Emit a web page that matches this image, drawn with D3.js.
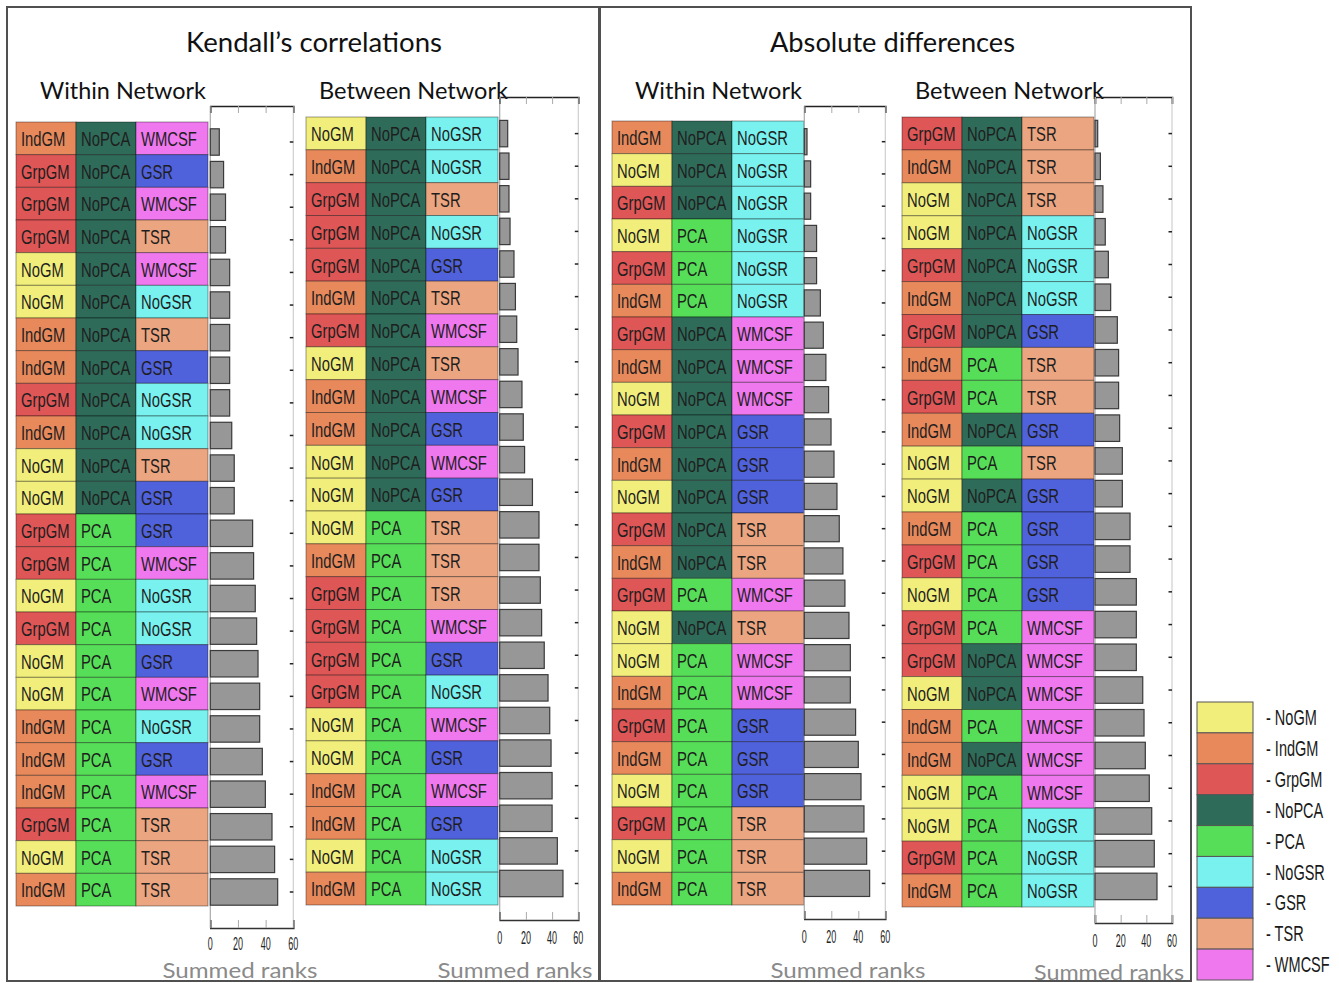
<!DOCTYPE html>
<html><head><meta charset="utf-8">
<script src="https://cdn.jsdelivr.net/npm/d3@7/dist/d3.min.js"></script>
<style>body{margin:0;background:#fff}svg{display:block}</style>
</head><body>
<svg id="chart" width="1339" height="983"></svg>
<script>
// ---------- DATA ----------
const categories = ["NoGM","IndGM","GrpGM","NoPCA","PCA","NoGSR","GSR","TSR","WMCSF"];
const categoryColors = ["#f2ee7c","#e8895c","#df5656","#2f6b59","#56de58","#79f1ee","#5061dc","#eba580","#ef78ee"];
const tickLabels = [0,20,40,60];

// Kendall's correlations - Within Network
const kwMask = ["IndGM","GrpGM","GrpGM","GrpGM","NoGM","NoGM","IndGM","IndGM","GrpGM","IndGM","NoGM","NoGM","GrpGM","GrpGM","NoGM","GrpGM","NoGM","NoGM","IndGM","IndGM","IndGM","GrpGM","NoGM","IndGM"];
const kwPca  = ["NoPCA","NoPCA","NoPCA","NoPCA","NoPCA","NoPCA","NoPCA","NoPCA","NoPCA","NoPCA","NoPCA","NoPCA","PCA","PCA","PCA","PCA","PCA","PCA","PCA","PCA","PCA","PCA","PCA","PCA"];
const kwDen  = ["WMCSF","GSR","WMCSF","TSR","WMCSF","NoGSR","TSR","GSR","NoGSR","NoGSR","TSR","GSR","GSR","WMCSF","NoGSR","NoGSR","GSR","WMCSF","NoGSR","GSR","WMCSF","TSR","TSR","TSR"];
const kwRanks = [6.5,9.6,11,11,14,14,14,14,14,15.5,17.3,17.3,30.6,31.3,32.5,33.5,34.5,35.7,35.7,37.6,39.8,44.6,46.5,48.7];

// Kendall's correlations - Between Network
const kbMask = ["NoGM","IndGM","GrpGM","GrpGM","GrpGM","IndGM","GrpGM","NoGM","IndGM","IndGM","NoGM","NoGM","NoGM","IndGM","GrpGM","GrpGM","GrpGM","GrpGM","NoGM","NoGM","IndGM","IndGM","NoGM","IndGM"];
const kbPca  = ["NoPCA","NoPCA","NoPCA","NoPCA","NoPCA","NoPCA","NoPCA","NoPCA","NoPCA","NoPCA","NoPCA","NoPCA","PCA","PCA","PCA","PCA","PCA","PCA","PCA","PCA","PCA","PCA","PCA","PCA"];
const kbDen  = ["NoGSR","NoGSR","TSR","NoGSR","GSR","TSR","WMCSF","TSR","WMCSF","GSR","WMCSF","GSR","TSR","TSR","TSR","WMCSF","GSR","NoGSR","WMCSF","GSR","WMCSF","GSR","NoGSR","NoGSR"];
const kbRanks = [6.1,7.1,7.1,7.9,10.9,12,13,14,17,18,19,25,30,30,31,32,34,36.9,38.2,39.2,40,40,44,48.3];

// Absolute differences - Within Network
const awMask = ["IndGM","NoGM","GrpGM","NoGM","GrpGM","IndGM","GrpGM","IndGM","NoGM","GrpGM","IndGM","NoGM","GrpGM","IndGM","GrpGM","NoGM","NoGM","IndGM","GrpGM","IndGM","NoGM","GrpGM","NoGM","IndGM"];
const awPca  = ["NoPCA","NoPCA","NoPCA","PCA","PCA","PCA","NoPCA","NoPCA","NoPCA","NoPCA","NoPCA","NoPCA","NoPCA","NoPCA","PCA","NoPCA","PCA","PCA","PCA","PCA","PCA","PCA","PCA","PCA"];
const awDen  = ["NoGSR","NoGSR","NoGSR","NoGSR","NoGSR","NoGSR","WMCSF","WMCSF","WMCSF","GSR","GSR","GSR","TSR","TSR","WMCSF","TSR","WMCSF","WMCSF","GSR","GSR","GSR","TSR","TSR","TSR"];
const awRanks = [2,4.7,4.7,9.1,9.1,11.9,14.1,16,18,19.8,22,24.2,25.9,28.6,30.1,33.1,34.1,34.1,38,40,42,44.2,46.2,48.4];

// Absolute differences - Between Network
const abMask = ["GrpGM","IndGM","NoGM","NoGM","GrpGM","IndGM","GrpGM","IndGM","GrpGM","IndGM","NoGM","NoGM","IndGM","GrpGM","NoGM","GrpGM","GrpGM","NoGM","IndGM","IndGM","NoGM","NoGM","GrpGM","IndGM"];
const abPca  = ["NoPCA","NoPCA","NoPCA","NoPCA","NoPCA","NoPCA","NoPCA","PCA","PCA","NoPCA","PCA","NoPCA","PCA","PCA","PCA","PCA","NoPCA","NoPCA","PCA","NoPCA","PCA","PCA","PCA","PCA"];
const abDen  = ["TSR","TSR","TSR","NoGSR","NoGSR","NoGSR","GSR","TSR","TSR","GSR","TSR","GSR","GSR","GSR","GSR","WMCSF","WMCSF","WMCSF","WMCSF","WMCSF","WMCSF","NoGSR","NoGSR","NoGSR"];
const abRanks = [2.1,4.2,6.2,8,10.4,12.2,17.4,18.4,18.4,19.2,21.3,21.3,27.3,27.3,32.2,32.2,32.2,37.2,38.2,39.2,42.3,44.2,46.2,48.3];

// ---------- LAYOUT ----------
const color = d3.scaleOrdinal().domain(categories).range(categoryColors);
const panels = [
  {mask:kwMask,pca:kwPca,den:kwDen,ranks:kwRanks,cellX:16,cellTop:122,cellBot:906,
   bx:[210.3,293.3],by:[122.6,911.4],fTop:106,fBot:928,tickY:944,lblX:240,lblY:969,lblW:155,
   head:"Within Network",headX:40,headW:166},
  {mask:kbMask,pca:kbPca,den:kbDen,ranks:kbRanks,cellX:306,cellTop:117,cellBot:905,
   bx:[499.7,578.3],by:[114.2,902.9],fTop:97,fBot:920,tickY:938,lblX:515,lblY:969,lblW:155,
   head:"Between Network",headX:319,headW:189},
  {mask:awMask,pca:awPca,den:awDen,ranks:awRanks,cellX:612,cellTop:121,cellBot:905,
   bx:[804.3,885.3],by:[122.5,902.6],fTop:106,fBot:919,tickY:937,lblX:848,lblY:969,lblW:155,
   head:"Within Network",headX:635,headW:167},
  {mask:abMask,pca:abPca,den:abDen,ranks:abRanks,cellX:902,cellTop:117,cellBot:907,
   bx:[1095,1172],by:[114.1,905.9],fTop:97,fBot:923,tickY:941,lblX:1109,lblY:971,lblW:150,
   head:"Between Network",headX:915,headW:189}
];
const colW = [60,60,72];
const headFont = "Lato, 'Open Sans', sans-serif";
const narrow = "'Liberation Sans', Arial, sans-serif";

const svg = d3.select("#chart");

// outer boxes
svg.append("rect").attr("x",7).attr("y",7).attr("width",592).attr("height",974)
  .attr("fill","none").attr("stroke","#505050").attr("stroke-width",2);
svg.append("rect").attr("x",600).attr("y",7).attr("width",591).attr("height",974)
  .attr("fill","none").attr("stroke","#505050").attr("stroke-width",2);

// titles
[["Kendall\u2019s correlations",186,256],["Absolute differences",770,245]].forEach(([t,x,w])=>{
  svg.append("text").attr("x",x).attr("y",42).attr("dominant-baseline","central")
    .attr("textLength",w).attr("lengthAdjust","spacingAndGlyphs")
    .style("font-family",headFont).style("font-size","26px").style("fill","#111").text(t);
});

panels.forEach(p=>{
  const g = svg.append("g");
  g.append("text").attr("x",p.headX).attr("y",90).attr("dominant-baseline","central")
    .attr("textLength",p.headW).attr("lengthAdjust","spacingAndGlyphs")
    .style("font-family",headFont).style("font-size","23px").style("fill","#111").text(p.head);

  // cells
  const yc = d3.scaleBand().domain(d3.range(24)).range([p.cellTop,p.cellBot]);
  const cols = [p.mask,p.pca,p.den];
  let cx = p.cellX;
  cols.forEach((arr,ci)=>{
    const x0 = cx;
    const cg = g.append("g");
    cg.selectAll("rect").data(arr).join("rect")
      .attr("x",x0).attr("y",(d,i)=>yc(i)).attr("width",colW[ci]).attr("height",yc.bandwidth())
      .attr("fill",d=>color(d)).attr("stroke","rgba(0,0,0,0.38)").attr("stroke-width",1);
    cg.selectAll("text").data(arr).join("text")
      .attr("transform",(d,i)=>`translate(${x0+5},${yc(i)+yc.bandwidth()/2+1}) scale(0.74,1)`)
      .attr("dominant-baseline","central")
      .style("font-family",narrow).style("font-size","20px").style("fill","#1e1e1e").text(d=>d);
    cx += colW[ci];
  });

  // bar plot
  const x = d3.scaleLinear().domain([0,60]).range(p.bx);
  const yb = d3.scaleBand().domain(d3.range(24)).range(p.by).padding(0.19);
  const bg = g.append("g");
  bg.append("line").attr("x1",x(60)).attr("x2",x(60)).attr("y1",p.fTop).attr("y2",p.fBot)
    .attr("stroke","#cfcfcf").attr("stroke-width",1.2);
  bg.append("line").attr("x1",x(0)).attr("x2",x(0)).attr("y1",p.fTop).attr("y2",p.fBot)
    .attr("stroke","#aaa").attr("stroke-width",1.2);
  const topAx = d3.axisTop(x).tickValues(tickLabels).tickSize(-7).tickFormat("");
  const ta = bg.append("g").attr("transform",`translate(0,${p.fTop})`).call(topAx);
  ta.select(".domain").attr("stroke","#222").attr("stroke-width",1.6);
  ta.selectAll(".tick line").attr("stroke","#aaa");
  const botAx = d3.axisBottom(x).tickValues(tickLabels).tickSize(-8).tickFormat("");
  const ba = bg.append("g").attr("transform",`translate(0,${p.fBot})`).call(botAx);
  ba.select(".domain").attr("stroke","#333").attr("stroke-width",1.6);
  ba.selectAll(".tick line").attr("stroke","#aaa");
  bg.selectAll("text.tl").data(tickLabels).join("text").attr("class","tl")
    .attr("transform",d=>`translate(${x(d)},${p.tickY}) scale(0.5,1)`)
    .attr("text-anchor","middle").attr("dominant-baseline","central")
    .style("font-family",narrow).style("font-size","18px").style("fill","#222").text(d=>d);
  bg.selectAll("line.rt").data(p.ranks).join("line").attr("class","rt")
    .attr("x1",x(60)-3.5).attr("x2",x(60)).attr("y1",(d,i)=>yb(i)+yb.bandwidth()/2)
    .attr("y2",(d,i)=>yb(i)+yb.bandwidth()/2).attr("stroke","#222").attr("stroke-width",1.5);
  bg.selectAll("rect.bar").data(p.ranks).join("rect").attr("class","bar")
    .attr("x",x(0)).attr("y",(d,i)=>yb(i)).attr("width",d=>x(d)-x(0)).attr("height",yb.bandwidth())
    .attr("fill","#979797").attr("stroke","#3a3a3a").attr("stroke-width",1.2);
  bg.append("text").attr("x",p.lblX).attr("y",p.lblY).attr("text-anchor","middle")
    .attr("dominant-baseline","central").attr("textLength",p.lblW).attr("lengthAdjust","spacingAndGlyphs")
    .style("font-family",headFont).style("font-size","22px").style("fill","#8a8a8a").text("Summed ranks");
});

// legend
const ly = d3.scaleBand().domain(categories).range([702,980]);
const lg = svg.append("g");
lg.selectAll("rect").data(categories).join("rect")
  .attr("x",1197).attr("y",d=>ly(d)).attr("width",56).attr("height",ly.bandwidth())
  .attr("fill",d=>color(d)).attr("stroke","#555").attr("stroke-width",1);
lg.selectAll("text").data(categories).join("text")
  .attr("transform",d=>`translate(1266,${ly(d)+ly.bandwidth()/2}) scale(0.66,1)`)
  .attr("dominant-baseline","central")
  .style("font-family",narrow).style("font-size","22px").style("fill","#1a1a1a").text(d=>"- "+d);
</script>
</body></html>
